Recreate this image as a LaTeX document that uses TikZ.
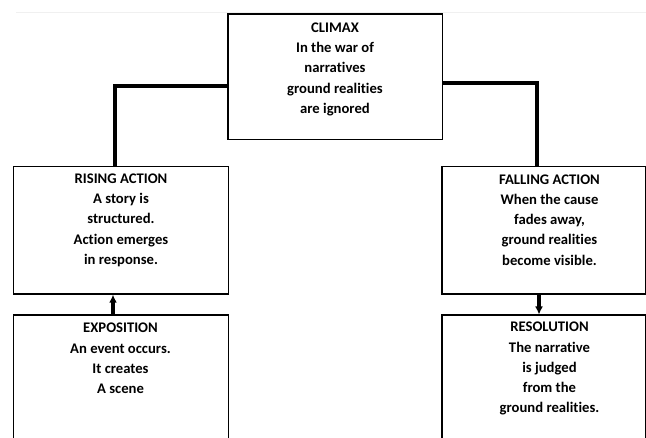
\documentclass[tikz,border=0pt]{standalone}
\usepackage{fontspec}
\setmainfont[Ligatures=NoCommon]{Carlito}
\usetikzlibrary{arrows.meta}

\tikzset{every picture/.style={line width=0.75pt}}
\tikzset{
  stagebox/.style={draw=black, line width=1pt, inner sep=0pt},
  stagetext/.style={anchor=north, inner sep=0pt, align=center,
    font=\fontsize{11}{15.2}\selectfont\bfseries},
  link/.style={line width=3pt},
  step arrow/.style={line width=3pt, -{Latex[length=6pt,width=6pt]}}
}

\begin{document}
\begin{tikzpicture}[x=0.75pt,y=0.75pt,yscale=-1,xscale=1]
		\useasboundingbox (0,0) rectangle (646,438);
		\clip (0,0) rectangle (646,438);

		%faint page rule
		\draw [black!6, line width=0.5pt] (16,12.3) -- (646,12.3) ;

		%Boxes
		\node [stagebox, minimum width=160.9pt, minimum height=94pt] (climax) at (335.25,76.65) {};
		\node [stagebox, minimum width=161.3pt, minimum height=95.5pt] (rising) at (121.15,230.35) {};
		\node [stagebox, minimum width=161.3pt, minimum height=116pt] (expo) at (121.15,392.5) {};
		\node [stagebox, minimum width=152.6pt, minimum height=95.5pt] (falling) at (543.75,230.35) {};
		\node [stagebox, minimum width=152.6pt, minimum height=116pt] (resolution) at (543.75,392.5) {};

		% Text Node
		\node [stagetext] (climaxtxt) at (335,22.3) {CLIMAX\\In the war of\\narratives\\ground realities\\are ignored};
		% Text Node
		\node [stagetext] (risingtxt) at (121,173.3) {RISING ACTION\\A story is\\structured.\\Action emerges\\in response.};
		% Text Node
		\node [stagetext] (expotxt) at (120.5,322.8) {EXPOSITION\\An event occurs.\\It creates\\A scene};
		% Text Node
		\node [stagetext] (fallingtxt) at (549.5,174) {FALLING ACTION\\When the cause\\fades away,\\ground realities\\become visible.};
		% Text Node
		\node [stagetext] (resolutiontxt) at (549.5,321.7) {RESOLUTION\\The narrative\\is judged\\from the\\ground realities.};

		%Elbow links
		\coordinate (lbend) at (115,86);
		\coordinate (rbend) at (536.5,83);
		\draw [link] (climax.west |- lbend) -| (rising.north -| lbend) ;
		\draw [link] (climax.east |- rbend) -| (falling.north -| rbend) ;

		%Short arrows
		\coordinate (lstep) at (113,0);
		\coordinate (rstep) at (539,0);
		\draw [step arrow] (expo.north -| lstep) -- (rising.south -| lstep) ;
		\draw [step arrow] (falling.south -| rstep) -- (resolution.north -| rstep) ;
\end{tikzpicture}
\end{document}
